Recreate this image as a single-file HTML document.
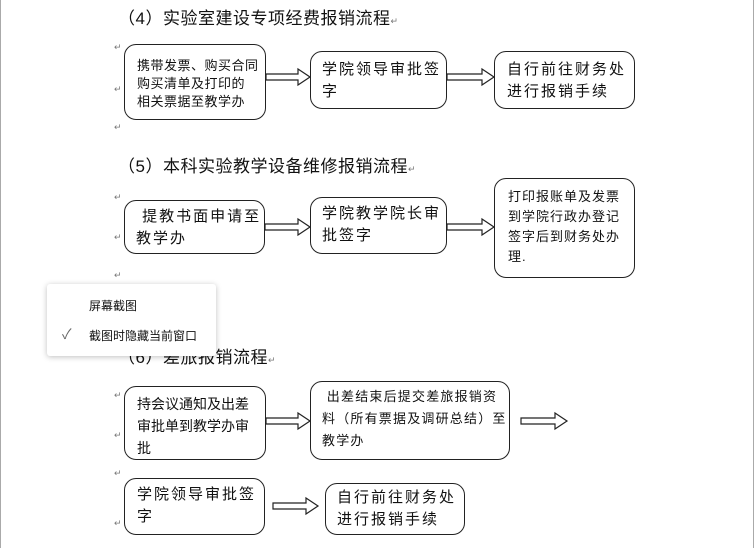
<!DOCTYPE html>
<html><head><meta charset="utf-8"><style>
body{margin:0;width:754px;height:548px;background:#fff;position:relative;overflow:hidden;font-family:"Liberation Sans","Noto Sans CJK SC",sans-serif;color:#111}
.t{position:absolute;font-size:17px;white-space:nowrap;letter-spacing:0.5px}
.b{position:absolute;border:1.3px solid #222;border-radius:12px;box-sizing:border-box;background:#fff}
.x{position:absolute;white-space:nowrap;font-size:13px;line-height:18px;letter-spacing:1px}
.y{position:absolute;white-space:nowrap;font-size:15px;line-height:22px;letter-spacing:2px}
.p{position:absolute;font-size:9px;color:#777;left:114px}
svg{position:absolute;left:0;top:0}
.pop{position:absolute;left:47px;top:284px;width:169px;height:72px;background:#fff;box-shadow:0 1px 6px rgba(0,0,0,.25);border-radius:3px}
</style></head><body>
<div style="position:absolute;left:0;top:0;width:1px;height:548px;background:#aaa"></div>
<div style="position:absolute;right:0;top:0;width:1px;height:548px;background:#aaa"></div>

<div class="t" style="left:118px;top:4px">（4）实验室建设专项经费报销流程<span style="font-size:9px;color:#777">↵</span></div>
<div class="p" style="top:42px">↵</div><div class="p" style="top:84px">↵</div><div class="p" style="top:122px">↵</div>
<div class="b" style="left:124px;top:44px;width:142px;height:76px"></div>
<div class="x" style="left:137px;top:57px;letter-spacing:0.5px">携带发票、购买合同<br>购买清单及打印的<br>相关票据至教学办</div>
<div class="b" style="left:310px;top:51px;width:137px;height:58px"></div>
<div class="y" style="left:322px;top:59px">学院领导审批签<br>字</div>
<div class="b" style="left:494px;top:51px;width:141px;height:58px"></div>
<div class="y" style="left:507px;top:59px">自行前往财务处<br>进行报销手续</div>

<div class="t" style="left:118px;top:152px">（5）本科实验教学设备维修报销流程<span style="font-size:9px;color:#777">↵</span></div>
<div class="p" style="top:192px">↵</div><div class="p" style="top:232px">↵</div><div class="p" style="top:270px">↵</div>
<div class="b" style="left:124px;top:200px;width:141px;height:54px"></div>
<div class="y" style="left:136px;top:206px">&nbsp;提教书面申请至<br>教学办</div>
<div class="b" style="left:310px;top:197px;width:137px;height:57px"></div>
<div class="y" style="left:322px;top:203px">学院教学院长审<br>批签字</div>
<div class="b" style="left:494px;top:178px;width:141px;height:100px"></div>
<div class="x" style="left:508px;top:187px;line-height:20px">打印报账单及发票<br>到学院行政办登记<br>签字后到财务处办<br>理.</div>

<div class="t" style="left:118px;top:343px">（6）差旅报销流程<span style="font-size:9px;color:#777">↵</span></div>
<div class="p" style="top:390px">↵</div><div class="p" style="top:430px">↵</div><div class="p" style="top:468px">↵</div><div class="p" style="top:518px">↵</div>
<div class="b" style="left:124px;top:386px;width:142px;height:74px"></div>
<div class="y" style="left:137px;top:393px;font-size:14px;letter-spacing:0">持会议通知及出差<br>审批单到教学办审<br>批</div>
<div class="b" style="left:310px;top:381px;width:200px;height:79px"></div>
<div class="x" style="left:322px;top:386px;line-height:22px;letter-spacing:1.2px">&nbsp;出差结束后提交差旅报销资<br>料（所有票据及调研总结）至<br>教学办</div>
<div class="b" style="left:124px;top:478px;width:141px;height:57px"></div>
<div class="y" style="left:137px;top:484px">学院领导审批签<br>字</div>
<div class="b" style="left:325px;top:483px;width:140px;height:52px"></div>
<div class="y" style="left:337px;top:487px">自行前往财务处<br>进行报销手续</div>

<svg width="754" height="548">
<g fill="#fff" stroke="#222" stroke-width="1.2">
<polygon points="266,74 298,74 298,69 310,77 298,85 298,80 266,80"/>
<polygon points="447,74 482,74 482,69 494,77 482,85 482,80 447,80"/>
<polygon points="265,224 298,224 298,219 310,227 298,235 298,230 265,230"/>
<polygon points="447,224 482,224 482,219 494,227 482,235 482,230 447,230"/>
<polygon points="266,418 298,418 298,413 310,421 298,429 298,424 266,424"/>
<polygon points="521,418 555,418 555,413 567,421 555,429 555,424 521,424"/>
<polygon points="273,503 306,503 306,498 318,506 306,514 306,509 273,509"/>
</g></svg>

<div class="pop">
<div style="position:absolute;left:42px;top:13px;font-size:12px">屏幕截图</div>
<div style="position:absolute;left:15px;top:40px;font-size:14px;color:#666">✓</div>
<div style="position:absolute;left:42px;top:43px;font-size:12px">截图时隐藏当前窗口</div>
</div>
</body></html>
